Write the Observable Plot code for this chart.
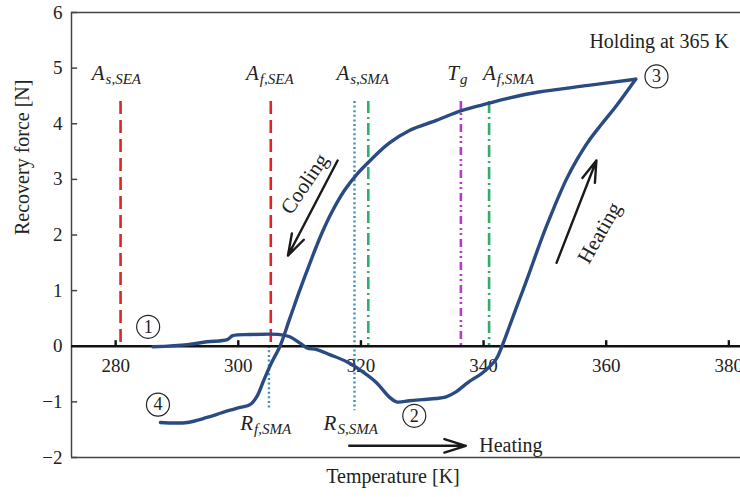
<!DOCTYPE html>
<html><head><meta charset="utf-8">
<script src="https://cdn.jsdelivr.net/npm/d3@7"></script>
<script src="https://cdn.jsdelivr.net/npm/@observablehq/plot@0.6"></script>
<style>body{margin:0;background:#fff}</style>
</head><body><div id="chart"></div>
<script>
// ---- data ----
const xDomain = [272.8, 381.9];
const yDomain = [-2, 6];
const xTicks = [280, 300, 320, 340, 360, 380];
const yTicks = [-2, -1, 0, 1, 2, 3, 4, 5, 6];

// heating from (1) through (2) to (3)
const heatT = [286.1, 291.7, 294.9, 298.2, 299.1, 301.9, 306.8, 308.4, 310.0, 311.2, 312.8, 314.9, 317.7, 320.3, 322.5, 324.6, 325.8, 327.9, 330.0, 332.3, 333.9, 335.5, 337.6, 339.8, 342.0, 343.0, 344.2, 345.3, 346.4, 347.5, 348.6, 349.7, 351.0, 352.2, 353.5, 355.2, 357.2, 359.3, 361.5, 364.8];
const heatF = [-0.01, 0.03, 0.08, 0.12, 0.19, 0.21, 0.21, 0.17, 0.06, -0.03, -0.06, -0.15, -0.28, -0.46, -0.65, -0.91, -1.00, -0.98, -0.96, -0.94, -0.91, -0.82, -0.64, -0.48, -0.24, 0.00, 0.35, 0.68, 1.00, 1.33, 1.67, 2.00, 2.36, 2.68, 3.00, 3.35, 3.70, 4.00, 4.30, 4.80];
// cooling from (3) down to (4)
const coolT = [364.8, 357.1, 349.0, 344.1, 340.9, 336.5, 332.3, 327.9, 324.6, 321.6, 319.4, 317.3, 315.2, 313.5, 311.7, 310.0, 308.4, 306.8, 305.4, 304.2, 303.0, 301.9, 300.3, 297.5, 294.9, 291.7, 287.3];
const coolF = [4.80, 4.69, 4.57, 4.46, 4.37, 4.24, 4.06, 3.88, 3.65, 3.35, 3.10, 2.80, 2.40, 2.00, 1.50, 1.00, 0.50, 0.00, -0.30, -0.60, -0.91, -1.05, -1.10, -1.19, -1.28, -1.37, -1.37];

// characteristic temperatures
const seaTemps = [280.8, 305.3];        // A_s,SEA, A_f,SEA
const smaStartTemp = [321.2];           // A_s,SMA
const smaFinishTemp = [340.9];          // A_f,SMA
const glassTemp = [336.3];              // T_g
const reverseStartTemp = [318.95];      // A_s,SMA / R_S,SMA (dotted)
const reverseFinishTemp = [305.0];      // R_f,SMA
const markerTop = 4.4;
const markerBottom = -1.16;

const labelMain = ["A", "A", "A", "T", "A", "R", "R"];
const labelSub = ["s,SEA", "f,SEA", "s,SMA", "g", "f,SMA", "f,SMA", "S,SMA"];
const labelT = [278.2, 303.35, 318.1, 336.0, 342.0, 302.4, 316.0];
const labelF = [4.78, 4.78, 4.78, 4.78, 4.78, -1.5, -1.5];

const stepNames = ["1", "2", "3", "4"];
const stepT = [285.3, 328.7, 368.2, 286.9];
const stepF = [0.35, -1.25, 4.85, -1.05];

const arrowT1 = [316.2, 351.9, 318.1];
const arrowF1 = [3.34, 1.50, -1.79];
const arrowT2 = [308.1, 358.4, 337.1];
const arrowF2 = [1.63, 3.34, -1.79];

const noteText = ["Cooling", "Heating"];
const noteT = [310.8, 358.9];
const noteF = [2.92, 2.04];
const noteAngle = [-56, -60];

// ---- build ----
const heat = heatT.map((t, i) => ({t, f: heatF[i]}));
const cool = coolT.map((t, i) => ({t, f: coolF[i]}));
const labels = labelMain.map((m, i) => ({m, s: labelSub[i], t: labelT[i], f: labelF[i]}));
const steps = stepNames.map((n, i) => ({n, t: stepT[i], f: stepF[i]}));
const arrows = arrowT1.map((t, i) => ({x1: t, y1: arrowF1[i], x2: arrowT2[i], y2: arrowF2[i]}));
const notes = noteText.map((s, i) => ({s, t: noteT[i], f: noteF[i], a: noteAngle[i]}));
const fmt = d => d < 0 ? "\u2212" + (-d) : String(d);
const curveColor = "#2a4b82";

const chart = Plot.plot({
  width: 740,
  height: 497,
  marginLeft: 71,
  marginRight: 0,
  marginTop: 12,
  marginBottom: 40,
  x: {domain: xDomain, axis: null},
  y: {domain: yDomain},
  style: {fontFamily: "'Liberation Serif', serif", fontSize: "19px", color: "#222", background: "#fff"},
  marks: [
    // frame
    Plot.ruleY([yDomain[1], yDomain[0]], {stroke: "#444", strokeWidth: 1.5}),
    Plot.ruleX([xDomain[0]], {y1: yDomain[0], y2: yDomain[1], stroke: "#444", strokeWidth: 1.5}),
    Plot.ruleY(yTicks, {x1: xDomain[0], x2: xDomain[0] + 1, stroke: "#444", strokeWidth: 1.5}),
    Plot.axisY(yTicks, {tickSize: 0, tickPadding: 9, tickFormat: fmt, fontSize: 19}),
    // vertical characteristic lines
    Plot.ruleX(seaTemps, {y1: markerTop, y2: 0, stroke: "#e02424", strokeWidth: 2.6, strokeDasharray: "13,6"}),
    Plot.ruleX(reverseStartTemp, {y1: markerTop, y2: markerBottom, stroke: "#3f8fc4", strokeWidth: 2.4, strokeDasharray: "2,2.6"}),
    Plot.ruleX(reverseFinishTemp, {y1: 0, y2: markerBottom, stroke: "#3f8fc4", strokeWidth: 2.4, strokeDasharray: "2,2.6"}),
    Plot.ruleX(smaStartTemp.concat(smaFinishTemp), {y1: markerTop, y2: 0, stroke: "#2fae6a", strokeWidth: 2.6, strokeDasharray: "12,4,2,4"}),
    Plot.ruleX(glassTemp, {y1: markerTop, y2: 0, stroke: "#b43cc8", strokeWidth: 2.6, strokeDasharray: "8,4,2,3,2,4"}),
    // zero axis
    Plot.ruleY([0], {stroke: "#111", strokeWidth: 2.4}),
    Plot.ruleX(xTicks, {y1: 0, y2: 0.1, stroke: "#111", strokeWidth: 2.4}),
    Plot.text(xTicks, {x: d => d, y: 0, dy: 12, lineAnchor: "top", text: d => String(d), fontSize: 19}),
    // curve
    Plot.line(heat, {x: "t", y: "f", curve: "catmull-rom", stroke: curveColor, strokeWidth: 3.4, strokeLinejoin: "round", strokeLinecap: "round"}),
    Plot.line(cool, {x: "t", y: "f", curve: "catmull-rom", stroke: curveColor, strokeWidth: 3.4, strokeLinejoin: "round", strokeLinecap: "round"}),
    // labels
    Plot.text(labels, {x: "t", y: "f", text: "m", textAnchor: "end", lineAnchor: "bottom", fontStyle: "italic", fontSize: 21}),
    Plot.text(labels, {x: "t", y: "f", text: "s", textAnchor: "start", lineAnchor: "bottom", dy: 4, dx: 1, fontStyle: "italic", fontSize: 15}),
    // step markers
    Plot.dot(steps, {x: "t", y: "f", r: 11.5, stroke: "#222", strokeWidth: 1.2, fill: "none"}),
    Plot.text(steps, {x: "t", y: "f", text: "n", fontSize: 18}),
    // arrows and notes
    Plot.arrow(arrows, {x1: "x1", y1: "y1", x2: "x2", y2: "y2", stroke: "#1a1a1a", strokeWidth: 2.4, headLength: 14, headAngle: 35}),
    Plot.text(notes, {x: "t", y: "f", text: "s", rotate: "a", fontSize: 21}),
    Plot.text(["Heating"], {x: 339.3, y: -1.79, textAnchor: "start", fontSize: 20}),
    Plot.text(["Holding at 365 K"], {x: 380.0, y: 5.37, textAnchor: "end", lineAnchor: "bottom", fontSize: 20}),
    // axis titles
    Plot.text(["Temperature [K]"], {frameAnchor: "bottom", dy: 25, dx: -13, lineAnchor: "bottom", fontSize: 20}),
    Plot.text(["Recovery force [N]"], {frameAnchor: "left", dx: -49, rotate: -90, fontSize: 20})
  ]
});
document.getElementById("chart").appendChild(chart);
</script>
</body></html>
